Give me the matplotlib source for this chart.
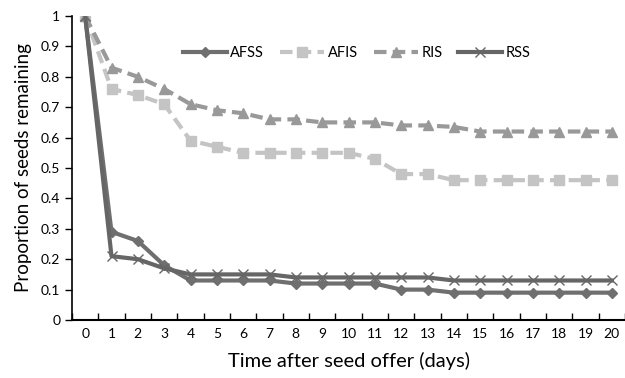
import matplotlib
matplotlib.use("Agg")
import matplotlib.pyplot as plt
import numpy as np

plt.rcParams['font.family'] = ['Lato', 'DejaVu Sans']

days = list(range(0, 21))
afss = [1, 0.29, 0.26, 0.18, 0.13, 0.13, 0.13, 0.13, 0.12, 0.12, 0.12, 0.12, 0.10, 0.10, 0.09, 0.09, 0.09, 0.09, 0.09, 0.09, 0.09]
afis = [1, 0.76, 0.74, 0.71, 0.59, 0.57, 0.55, 0.55, 0.55, 0.55, 0.55, 0.53, 0.48, 0.48, 0.46, 0.46, 0.46, 0.46, 0.46, 0.46, 0.46]
ris = [1, 0.83, 0.80, 0.76, 0.71, 0.69, 0.68, 0.66, 0.66, 0.65, 0.65, 0.65, 0.64, 0.64, 0.635, 0.62, 0.62, 0.62, 0.62, 0.62, 0.62]
rss = [1, 0.21, 0.20, 0.17, 0.15, 0.15, 0.15, 0.15, 0.14, 0.14, 0.14, 0.14, 0.14, 0.14, 0.13, 0.13, 0.13, 0.13, 0.13, 0.13, 0.13]
yticks = [0, 0.1, 0.2, 0.3, 0.4, 0.5, 0.6, 0.7, 0.8, 0.9, 1]
ytick_labels = ['0', '0.1', '0.2', '0.3', '0.4', '0.5', '0.6', '0.7', '0.8', '0.9', '1']

fig = plt.figure(figsize=(6.25, 3.78), dpi=100)
ax = fig.add_axes([0.1152, 0.1534, 0.8848, 0.8043])

ax.plot(days, afss, color='#6f6f6f', lw=3, marker='D', ms=5.5, label='AFSS')
ax.plot(days, afis, color='#c4c4c4', lw=3, ls=(0, (3, 1.5)), marker='s', ms=7, label='AFIS')
ax.plot(days, ris, color='#999999', lw=3, ls=(0, (3, 1.5)), marker='^', ms=7, label='RIS')
ax.plot(days, rss, color='#666666', lw=3, marker='x', ms=7, mew=1, label='RSS')

ax.set_xlim(-0.5, 20.5)
ax.set_ylim(0, 1)
ax.set_yticks(yticks)
ax.set_yticklabels(ytick_labels)
ax.set_xticks(days)
ax.set_xticklabels([str(d) for d in days])
ax.set_xticks(np.arange(-0.5, 21, 1), minor=True)
ax.tick_params(axis='x', which='major', length=0, labelsize=10, pad=6)
ax.tick_params(axis='x', which='minor', length=5, direction='in', width=1)
ax.tick_params(axis='y', length=5, direction='out', labelsize=10, width=1)

for s in ['top', 'right']:
    ax.spines[s].set_visible(False)
ax.spines['left'].set_linewidth(1.2)
ax.spines['bottom'].set_linewidth(1.5)

ax.set_xlabel('Time after seed offer (days)', fontsize=14.5, labelpad=8)
ax.set_ylabel('Proportion of seeds remaining', fontsize=13.5, labelpad=6)

ax.legend(loc='center', bbox_to_anchor=(0.515, 0.878), ncol=4, frameon=False,
          fontsize=10.5, handlelength=3, columnspacing=1.1, handletextpad=0.25)

fig.savefig('out.png', dpi=100)
